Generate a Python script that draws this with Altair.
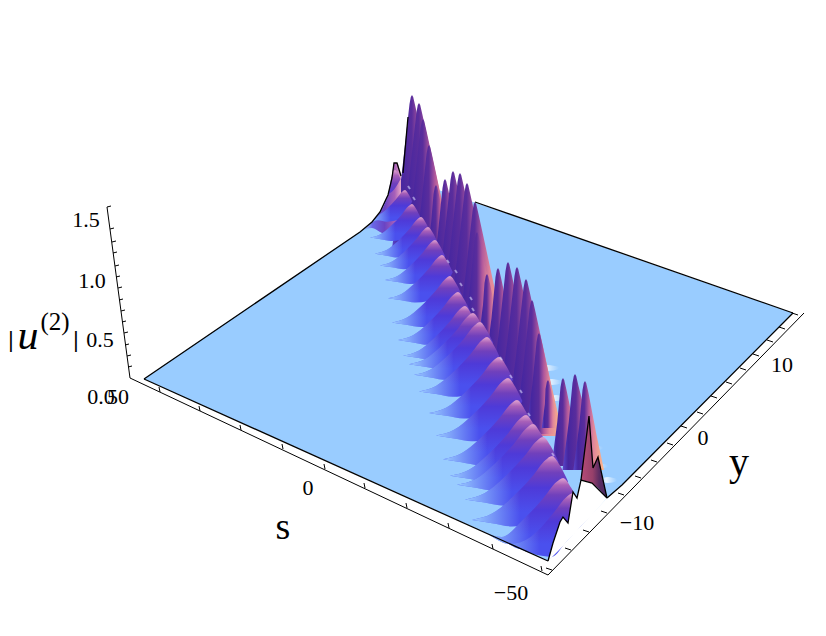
import altair as alt
import numpy as np
import pandas as pd

PLATE = "#99CCFF"
SERIF = "Liberation Serif"

# ---- surface (screen position of each feature) ----
plate_x = [144, 427, 548, 607, 622, 793]
plate_top = [379, 186, 228, 248, 254, 313]
plate_bot = [379, 506, 561, 498, 485, 313]

back_tip_x = [412, 419, 423, 429, 436, 445, 453, 460, 467, 475, 477, 487, 498, 508, 517, 526, 532, 539, 548, 563, 575, 585]
back_tip_y = [95, 103, 119, 145, 185, 179, 171, 173, 183, 202, 232, 274, 268, 262, 267, 279, 300, 333, 380, 378, 374, 381]
back_end_x = [448, 456, 456, 457, 453, 470, 485, 495, 503, 508, 501, 501, 521, 539, 551, 561, 563, 562, 559, 583, 600, 604]
back_end_y = [253, 266, 264, 268, 260, 289, 312, 327, 341, 347, 338, 336, 369, 398, 417, 433, 436, 434, 428, 466, 470, 470]

front_tip_x = [395, 405, 412, 421, 428, 435, 442, 450, 458, 465, 473, 480, 487, 499, 508, 517, 526, 533, 543, 552, 563, 573]
front_tip_y = [170, 190, 204, 217, 227, 240, 255, 276, 292, 306, 313, 322, 337, 357, 378, 400, 415, 424, 437, 456, 478, 493]
front_reach = [28, 36, 42, 46, 48, 50, 54, 58, 60, 62, 64, 66, 68, 70, 72, 74, 76, 76, 78, 80, 82, 84]

spark_x = [408, 413, 447, 455, 460, 470, 472, 500, 510, 520, 528, 552]
spark_y = [186, 197, 260, 270, 283, 297, 308, 357, 375, 390, 413, 453]

sil_x = [144, 360, 372, 380, 388, 392, 394, 397, 401]
sil_y = [379, 232, 222, 212, 195, 178, 163, 163, 176]
shoulder_bot = [379, 232, 228, 232, 236, 238, 238, 238, 238]

low_x = [144, 548, 607, 793]
low_y = [379, 561, 498, 313]

cover_x = [548, 553, 560, 563, 568, 573, 577, 581, 592, 607]
cover_top = [561, 543, 522, 517, 523, 492, 498, 480, 483, 498]
cover_bot = [561, 556, 549, 546, 540, 535, 531, 526, 515, 498]

face_x = [581, 589, 593, 598, 607]
face_top = [480, 416, 468, 457, 498]
face_bot = [480, 482, 484, 488, 498]

streak_x = [548, 552, 556, 566, 590, 596, 608]
streak_y = [368, 382, 398, 430, 448, 466, 480]
streak_w = [22, 20, 18, 20, 26, 24, 18]

# ---- axes ----
axis_x = [107, 130, 548, 804]
axis_y = [207, 378, 575, 313]
s_tick_x = [160, 200, 241, 283, 325, 365, 407, 449, 493, 542]
s_tick_y = [392, 411, 430, 449, 469, 488, 508, 528, 549, 571]
y_tick_x = [798, 785, 773, 759, 746, 732, 717, 703, 687, 673, 657, 641, 624, 607, 589, 571, 552]
y_tick_y = [315, 329, 342, 356, 370, 384, 398, 414, 428, 445, 462, 478, 495, 513, 532, 550, 570]
z_tick_x = [107, 110, 112, 113, 115, 116, 118, 119, 121, 122, 124, 125, 127, 128]
z_tick_y = [207, 229, 242, 253, 266, 277, 288, 300, 311, 322, 333, 345, 356, 367]

label_text = ["1.5", "1.0", "0.5", "0.0", "50", "0", "\u221250", "\u221210", "0", "10"]
label_x = [86, 92, 100, 101, 118, 308, 511, 637, 703, 782]
label_y = [220, 281, 340, 397, 397, 488, 593, 523, 438, 365]

X = alt.X("x:Q", scale=alt.Scale(domain=[8, 818], nice=False, zero=False), axis=None)
Y = alt.Y("y:Q", scale=alt.Scale(domain=[628, 8], nice=False, zero=False), axis=None)


def grad(stops, x1=0.0, x2=1.0, y1=0.0, y2=0.0):
    return alt.Gradient(gradient="linear", x1=x1, x2=x2, y1=y1, y2=y2,
                        stops=[alt.GradientStop(offset=o, color=c) for o, c in stops])


def area(rows, fill, **kw):
    df = pd.DataFrame(rows, columns=["bump", "x", "y", "y2"])
    return alt.Chart(df).mark_area(color=fill, orient="vertical", **kw).encode(
        x=X, y=Y, y2="y2:Q", detail="bump:N")


def lines(paths, color="black", width=1.0):
    rows = []
    for i, (xs, ys) in enumerate(paths):
        rows += [(i, k, a, b) for k, (a, b) in enumerate(zip(xs, ys))]
    df = pd.DataFrame(rows, columns=["p", "k", "x", "y"])
    return alt.Chart(df).mark_line(color=color, strokeWidth=width).encode(
        x=X, y=Y, detail="p:N", order="k:Q")


def ticks(xs, ys, dx, dy, width=1.0, color="black", opacity=1.0):
    df = pd.DataFrame({"x": xs, "y": ys})
    df["xe"] = df.x + dx
    df["ye"] = df.y + dy
    return alt.Chart(df).mark_rule(color=color, strokeWidth=width, opacity=opacity).encode(
        x=X, y=Y, x2="xe:Q", y2="ye:Q")


def texts(xs, ys, ts, size, **kw):
    df = pd.DataFrame({"x": xs, "y": ys, "t": ts})
    return alt.Chart(df).mark_text(font=SERIF, fontSize=size, align="center",
                                   baseline="middle", color="black", **kw).encode(
        x=X, y=Y, text="t:N")


# plate
plate = area([(0, a, b, c) for a, b, c in zip(plate_x, plate_top, plate_bot)], PLATE)

# pale ripples right of the ridge
streak_rows = []
for i, (a, b, w) in enumerate(zip(streak_x, streak_y, streak_w)):
    streak_rows += [(i, a - w / 2, b - 1, b + 1), (i, a, b - 3, b + 3), (i, a + w / 2, b - 1, b + 1)]
streaks = area(streak_rows, grad([(0, PLATE), (0.4, "#E4F2FF"), (1, PLATE)]), interpolate="monotone")

# back row of peaks
back_rows = []
for i, (tx, ty, ex, ey) in enumerate(zip(back_tip_x, back_tip_y, back_end_x, back_end_y)):
    lx = tx - (ey - ty) * 0.13
    pts = [(lx, ey), (lx + (tx - lx) * 0.5, ey + (ty - ey) * 0.5), (tx - 2.5, ty + 9), (tx - 1.2, ty + 2), (tx, ty),
           (tx + 1.2, ty + 2), (tx + 3.5, ty + 12), (tx + (ex - tx) * 0.6, ty + (ey - ty) * 0.6), (ex, ey)]
    back_rows += [(i, a, b, ey) for a, b in pts]
back = area(back_rows, grad([(0, "#5A48CC"), (0.15, "#4526A0"), (0.36, "#5A2D9C"), (0.5, "#B0589C"),
                             (0.65, "#E0859A"), (1, "#FDB98A")]))

# silhouette shoulder at the far end of the front row
shoulder = area([(0, a, b, max(b, c)) for a, b, c in list(zip(sil_x, sil_y, shoulder_bot))[1:]],
                grad([(0, "rgba(153,204,255,0)"), (0.3, "#6A68E8"), (0.6, "#6A44C4"),
                      (0.85, "#A860B8"), (1, "#E8A8C8")]), interpolate="monotone")

# front row of humps: body shaded downwards from the crest, then faded out to the plate on the left
top_shape = [(-1.0, 0.80), (-0.75, 0.72), (-0.5, 0.52), (-0.25, 0.26), (-0.08, 0.05), (0.0, 0.0), (0.1, 0.12), (0.2, 0.32)]
bot_shape = [0.80, 0.84, 0.88, 0.85, 0.75, 0.65, 0.5, 0.32]
body_fill = grad([(0, "#D898CC"), (0.1, "#A860B8"), (0.28, "#7040BC"), (0.55, "#4E3AD8"), (1, "#4A50EE")],
                 x1=0.45, y1=0.02, x2=0.45, y2=0.8)
fade_fill = grad([(0, "rgba(153,204,255,0.95)"), (0.05, "rgba(153,204,255,0.9)"),
                  (0.5, "rgba(153,204,255,0)"), (1, "rgba(153,204,255,0)")])
front = []
for i, (tx, ty, r) in enumerate(zip(front_tip_x, front_tip_y, front_reach)):
    rows = []
    for (fx, fy), fb in zip(top_shape, bot_shape):
        xx = tx + fx * r
        sil = float(np.interp(xx, sil_x, sil_y)) if xx < 394 else -1e9
        low = float(np.interp(xx, low_x, low_y))
        a = min(max(ty + fy * r, sil), low)
        b = min(max(ty + fb * r, a), low)
        rows.append((i, xx, a, b))
    front.append(area(rows, body_fill, interpolate="monotone"))
    front.append(area(rows, fade_fill, interpolate="monotone"))
sparks = ticks(spark_x, spark_y, 2, 3, width=2, color="#D8D4FA", opacity=0.6)

# cut face at the near edge and the white below it
face = area([(0, a, b, c) for a, b, c in zip(face_x, face_top, face_bot)],
            grad([(0, "#B64C78"), (0.45, "#96406A"), (0.7, "#5A2C62"), (1, "#4A2A5E")]))
cover = area([(0, a, b, c) for a, b, c in zip(cover_x, cover_top, cover_bot)], "white")

edges = lines([
    (sil_x, sil_y),
    ([403, 408], [173, 117]),
    ([475, 793], [202, 313]),
    ([144, 548], [379, 561]),
    ([793, 622, 607], [313, 485, 498]),
    (cover_x, cover_top),
    ([581, 589, 593, 598, 607], [480, 416, 468, 457, 498]),
], width=1.3)

axes = lines([(axis_x, axis_y)], width=1.0)
parts = [plate, streaks, back, shoulder] + front + [
    sparks, face, cover, edges, axes,
    ticks(s_tick_x, s_tick_y, -1, -5),
    ticks(y_tick_x, y_tick_y, -6, -2),
    ticks(z_tick_x, z_tick_y, 4, -1),
    texts(label_x, label_y, label_text, 22),
    texts([283], [528], ["s"], 38),
    texts([739], [463], ["y"], 40),
    texts([28], [336], ["u"], 42, fontStyle="italic"),
    texts([55], [322], ["(2)"], 25),
    texts([11, 76], [340, 340], ["|", "|"], 24, fontWeight="bold"),
]

chart = alt.layer(*parts).properties(
    width=810, height=620, padding=0, autosize=alt.AutoSizeParams(type="none")
).configure_view(stroke=None)

chart.save("out.html", embed_options={"renderer": "svg", "actions": False})
